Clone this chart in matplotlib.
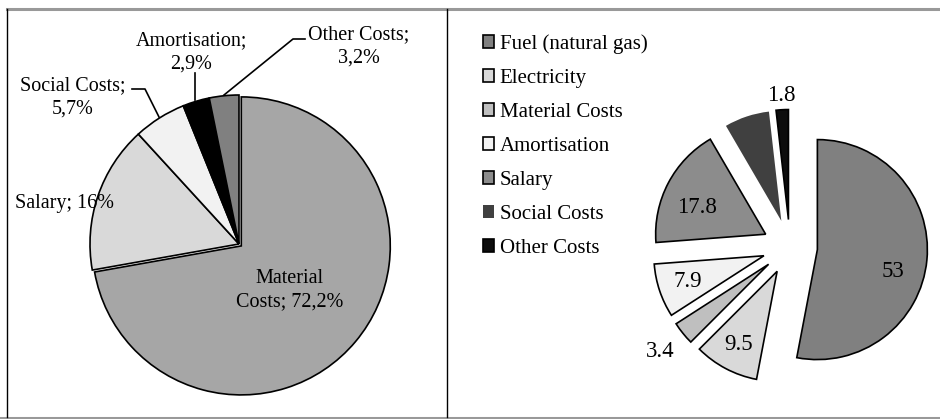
import numpy as np
import matplotlib.pyplot as plt
from matplotlib.patches import Patch

plt.rcParams['font.family'] = ['Liberation Serif', 'DejaVu Serif']

# left pie: cost structure, %
left_labels = ["Material Costs", "Salary", "Social Costs", "Amortisation", "Other Costs"]
left_values = [72.2, 16.0, 5.7, 2.9, 3.2]
left_text = ["Material\nCosts; 72,2%", "Salary; 16%", "Social Costs;\n5,7%",
             "Amortisation;\n2,9%", "Other Costs;\n3,2%"]
left_colors = ["#a6a6a6", "#d9d9d9", "#f2f2f2", "#000000", "#808080"]

# right pie
right_labels = ["Fuel (natural gas)", "Electricity", "Material Costs", "Amortisation",
                "Salary", "Social Costs", "Other Costs"]
right_values = [53, 9.5, 3.4, 7.9, 17.8, 6.6, 1.8]
right_text = ["53", "9.5", "3.4", "7.9", "17.8", "", "1.8"]
right_colors = ["#808080", "#d9d9d9", "#bfbfbf", "#f2f2f2", "#8c8c8c", "#404040", "#0d0d0d"]

W, H = 940, 419
fig = plt.figure(figsize=(W / 100, H / 100), dpi=100)

# frame lines (pixel coords)
frame = fig.add_axes([0, 0, 1, 1])
frame.set_xlim(0, W)
frame.set_ylim(H, 0)
frame.axis('off')
frame.plot([7, W], [9, 9], color="#999999", lw=2.2)
frame.plot([0, W], [417.5, 417.5], color="#999999", lw=2.2)
frame.plot([7, 7], [9, 417], color="black", lw=1.0)
frame.plot([447, 447], [9, 417], color="black", lw=1.0)

# ---- left pie ----
r1 = 149
cx1, cy1 = 239, 244
ax1 = fig.add_axes([0, 0, 470 / W, 1])
wedges, _ = ax1.pie(left_values, colors=left_colors, startangle=90, counterclock=False,
                    explode=[0.02, 0, 0, 0, 0],
                    wedgeprops=dict(edgecolor="black", linewidth=1.2))
ax1.set_aspect('auto')
ax1.set_xlim(-cx1 / r1, (470 - cx1) / r1)
ax1.set_ylim(-(H - cy1) / r1, cy1 / r1)

def to1(x, y):
    return (x - cx1) / r1, (cy1 - y) / r1

fs_l = 14.5
ax1.text(*to1(290, 290), left_text[0], ha="center", va="center", fontsize=fs_l, linespacing=1.3)
ax1.text(*to1(15, 203), left_text[1], ha="left", va="center", fontsize=fs_l)
ax1.text(*to1(73, 97), left_text[2], ha="center", va="center", fontsize=fs_l, linespacing=1.3)
ax1.text(*to1(191, 52), left_text[3], ha="center", va="center", fontsize=fs_l, linespacing=1.3)
ax1.text(*to1(359, 46), left_text[4], ha="center", va="center", fontsize=fs_l, linespacing=1.3)

# leader lines
for pts in ([(132, 89), (145, 89), (159, 117)],
            [(195, 73), (195, 100)],
            [(305, 39), (293, 39), (224, 95)]):
    xs, ys = zip(*[to1(*p) for p in pts])
    ax1.plot(xs, ys, color="black", lw=1.2)

# ---- right pie ----
r2 = 110
cx2, cy2 = 790 - 470, 247
ax2 = fig.add_axes([470 / W, 0, 470 / W, 1])
wedges2, _ = ax2.pie(right_values, colors=right_colors, startangle=90, counterclock=False,
                     explode=[0.25] * len(right_values),
                     wedgeprops=dict(edgecolor="black", linewidth=1.2))
wedges2[5].set_edgecolor("none")
ax2.set_aspect('auto')
ax2.set_xlim(-cx2 / r2, (470 - cx2) / r2)
ax2.set_ylim(-(H - cy2) / r2, cy2 / r2)

# label distance (in radii) and angle tweak (deg) for each slice
label_dist = [0.96, 1.0, 1.52, 0.98, 0.92, 0, 1.38]
label_turn = [-8, 0, 0, 0, 5, 0, 0]
for w, t, d, a in zip(wedges2, right_text, label_dist, label_turn):
    if not t:
        continue
    ang = np.deg2rad((w.theta1 + w.theta2) / 2 + a)
    ax2.text(d * np.cos(ang), d * np.sin(ang), t, ha="center", va="center", fontsize=16.5)

handles = []
for lab, c in zip(right_labels, right_colors):
    ec = "none" if lab == "Social Costs" else "black"
    handles.append(Patch(facecolor=c, edgecolor=ec, linewidth=1.2, label=lab))
leg = ax2.legend(handles=handles, loc="upper left", bbox_to_anchor=(13 / 470, 1 - 34 / H),
                 frameon=False, fontsize=15, handlelength=0.55, handleheight=0.55,
                 handletextpad=0.25, labelspacing=0.72, borderaxespad=0, borderpad=0)

fig.savefig("out.png", dpi=100)
